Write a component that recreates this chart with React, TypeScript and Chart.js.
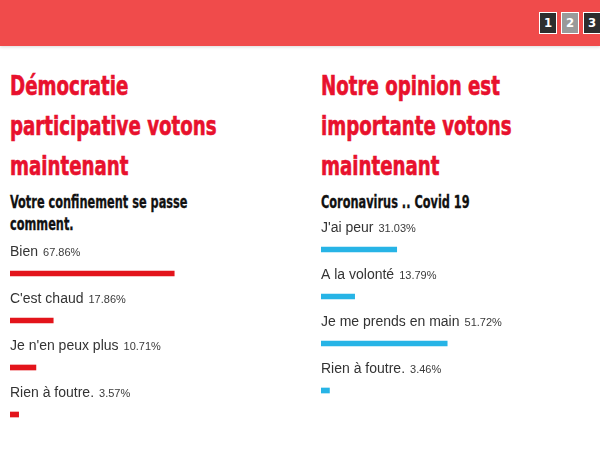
import React, { useEffect, useRef } from "react";
import { Chart, registerables } from "chart.js";

Chart.register(...registerables);

const leftTitle = ["Démocratie", "participative votons", "maintenant"];
const leftQuestion = ["Votre confinement se passe", "comment."];
const leftLabels = ["Bien", "C'est chaud", "Je n'en peux plus", "Rien à foutre."];
const leftValues = [67.86, 17.86, 10.71, 3.57];

const rightTitle = ["Notre opinion est", "importante votons", "maintenant"];
const rightQuestion = ["Coronavirus .. Covid 19"];
const rightLabels = ["J'ai peur", "A la volonté", "Je me prends en main", "Rien à foutre."];
const rightValues = [31.03, 13.79, 51.72, 3.46];

const pages = ["1", "2", "3"];

const TITLE_FONT = "'DejaVu Sans Condensed', 'DejaVu Sans', sans-serif";
const TEXT_FONT = "'Liberation Sans', Arial, sans-serif";

function PollChart(props: {
  labels: string[];
  values: number[];
  color: string;
  left: number;
  top: number;
  width: number;
}) {
  const ref = useRef<HTMLCanvasElement | null>(null);
  const { labels, values, color, left, top, width } = props;
  const padTop = 20;
  const areaH = 188;
  useEffect(() => {
    if (!ref.current) return;
    const chart = new Chart(ref.current, {
      type: "bar",
      data: {
        labels,
        datasets: [
          {
            data: values,
            backgroundColor: color,
            borderWidth: 0,
            barThickness: 5,
          },
        ],
      },
      options: {
        indexAxis: "y",
        animation: false,
        responsive: false,
        maintainAspectRatio: false,
        layout: { padding: { top: padTop, left: 0, right: 0, bottom: 0 } },
        plugins: { legend: { display: false }, tooltip: { enabled: false } },
        scales: {
          x: { display: false, min: 0, max: 100 },
          y: { display: false },
        },
      },
      plugins: [
        {
          id: "pollLabels",
          afterDatasetsDraw(c: any) {
            const ctx = c.ctx;
            const meta = c.getDatasetMeta(0);
            meta.data.forEach((bar: any, i: number) => {
              const x = c.chartArea.left;
              const y = bar.y - 18;
              ctx.save();
              ctx.textBaseline = "alphabetic";
              ctx.textAlign = "left";
              ctx.fillStyle = "#333333";
              ctx.font = `14px ${TEXT_FONT}`;
              ctx.fillText(labels[i], x, y);
              const w = ctx.measureText(labels[i]).width;
              ctx.font = `11px ${TEXT_FONT}`;
              ctx.fillStyle = "#3a3a3a";
              ctx.fillText(values[i].toFixed(2) + "%", x + w + 5, y);
              ctx.restore();
            });
          },
        },
      ],
    } as any);
    return () => chart.destroy();
  }, []);
  return (
    <canvas
      ref={ref}
      width={width}
      height={padTop + areaH}
      style={{ position: "absolute", left, top, width, height: padTop + areaH }}
    />
  );
}

function Block(props: { left: number; title: string[]; question: string[] }) {
  const { left, title, question } = props;
  return (
    <>
      <div
        style={{
          position: "absolute",
          left,
          top: 66,
          fontFamily: TITLE_FONT,
          fontWeight: "bold",
          fontSize: 27,
          lineHeight: "40px",
          color: "#e8112d",
          whiteSpace: "nowrap",
          transform: "scaleX(0.75)",
          transformOrigin: "0 0",
          WebkitTextStroke: "0.6px #e8112d",
        }}
      >
        {title.map((t, i) => (
          <div key={i}>{t}</div>
        ))}
      </div>
      <div
        style={{
          position: "absolute",
          left,
          top: 191,
          fontFamily: TITLE_FONT,
          fontWeight: "bold",
          fontSize: 17.5,
          lineHeight: "22px",
          color: "#111",
          whiteSpace: "nowrap",
          transform: "scaleX(0.72)",
          transformOrigin: "0 0",
          WebkitTextStroke: "0.3px #111",
        }}
      >
        {question.map((t, i) => (
          <div key={i}>{t}</div>
        ))}
      </div>
    </>
  );
}

export default function App() {
  return (
    <div
      style={{
        position: "absolute",
        left: 0,
        top: 0,
        width: 600,
        height: 459,
        background: "#fff",
        overflow: "hidden",
      }}
    >
      <div
        style={{
          position: "absolute",
          left: 0,
          top: 0,
          width: 600,
          height: 46,
          background: "#f04b4b",
          boxShadow: "0 1px 3px rgba(0,0,0,0.15)",
        }}
      >
        {pages.map((p, i) => (
          <div
            key={p}
            style={{
              position: "absolute",
              left: 539 + i * 22,
              top: 12,
              width: 16,
              height: 20,
              border: "1px solid #fff",
              background: i === 1 ? "#9a9a9a" : "#2e2e2e",
              color: "#fff",
              fontFamily: TITLE_FONT,
              fontWeight: "bold",
              fontSize: 13,
              lineHeight: "20px",
              textAlign: "center",
            }}
          >
            {p}
          </div>
        ))}
      </div>
      <Block left={10} title={leftTitle} question={leftQuestion} />
      <Block left={321} title={rightTitle} question={rightQuestion} />
      <PollChart labels={leftLabels} values={leftValues} color="#e3141b" left={10} top={230} width={242} />
      <PollChart labels={rightLabels} values={rightValues} color="#27b4e6" left={321} top={206} width={244} />
    </div>
  );
}
